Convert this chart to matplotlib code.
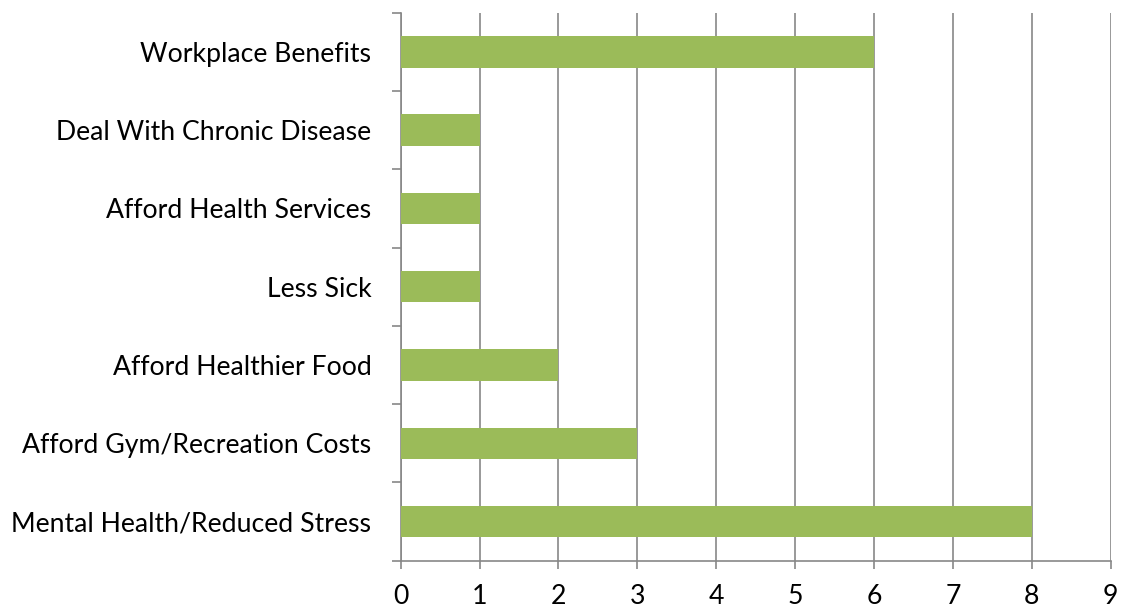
import numpy as np
import matplotlib
matplotlib.use("Agg")
import matplotlib.pyplot as plt

# data (bottom to top)
categories = ["Mental Health/Reduced Stress", "Afford Gym/Recreation Costs",
              "Afford Healthier Food", "Less Sick", "Afford Health Services",
              "Deal With Chronic Disease", "Workplace Benefits"]
counts = [8, 3, 2, 1, 1, 1, 6]

plt.rcParams["font.family"] = ["Lato", "DejaVu Sans"]

grey = "#878787"
fig = plt.figure(figsize=(11.22, 6.08), dpi=100)
ax = fig.add_axes([0.3571, 0.0778, 0.6328, 0.9013])

y = np.arange(len(categories))
ax.barh(y, counts, height=0.4, color="#9BBB59", zorder=3)

ax.set_xlim(0, 9)
ax.set_ylim(-0.5, len(categories) - 0.5)
ax.set_xticks(np.arange(0, 10, 1))
ax.set_yticks(y)
ax.set_yticklabels(categories)
ax.set_yticks(np.arange(-0.5, len(categories), 1), minor=True)

ax.grid(axis="x", color=grey, linewidth=1.2, zorder=0)
for s in ["top", "right"]:
    ax.spines[s].set_visible(False)
for s in ["left", "bottom"]:
    ax.spines[s].set_color(grey)
    ax.spines[s].set_linewidth(1.2)

ax.tick_params(axis="y", which="major", length=0, pad=21, labelsize=19.2)
ax.tick_params(axis="y", which="minor", length=6.5, width=1.2, color=grey)
ax.tick_params(axis="x", length=5.8, width=1.2, color=grey, pad=11, labelsize=19.2)

fig.savefig("out.png", dpi=100)
